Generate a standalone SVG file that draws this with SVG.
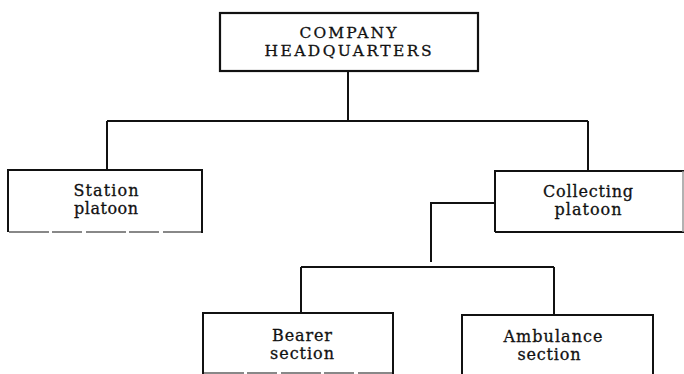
<svg xmlns="http://www.w3.org/2000/svg" width="684" height="374" viewBox="0 0 684 374">
<style>
.box{fill:#fff;stroke:#111;stroke-width:2.2}
.edge{fill:none;stroke:#111;stroke-width:2}
.faint{fill:none;stroke:#888;stroke-width:2;stroke-dasharray:40 3 30 4}
.lbl{font-family:"DejaVu Serif","Liberation Serif",serif;font-size:16px;fill:#111;stroke:#111;stroke-width:0.3;text-anchor:middle}
.cap{font-size:15.5px}
</style>
<rect width="684" height="374" fill="#fff"/>
<g id="connectors">
<path class="edge" d="M348,71 V121"/>
<path class="edge" d="M107,121 H588"/>
<path class="edge" d="M107,121 V170"/>
<path class="edge" d="M588,121 V171"/>
<path class="edge" d="M495,203 H431 V262"/>
<path class="edge" d="M301,267 H554"/>
<path class="edge" d="M301,267 V313"/>
<path class="edge" d="M554,267 V315"/>
</g>
<g id="hq">
<rect class="box" x="220" y="13" width="258" height="58"/>
<text class="lbl cap" x="348" y="38" textLength="97" lengthAdjust="spacing">COMPANY</text>
<text class="lbl cap" x="348" y="56" textLength="167" lengthAdjust="spacing">HEADQUARTERS</text>
</g>
<g id="station">
<path class="edge" d="M8,232 V170 H202 V233"/>
<path class="faint" d="M9,232 H201"/>
<text class="lbl" x="106" y="196" textLength="65" lengthAdjust="spacing">Station</text>
<text class="lbl" x="106" y="214" textLength="64" lengthAdjust="spacing">platoon</text>
</g>
<g id="collecting">
<path class="edge" d="M495,232 V171 H684"/>
<path class="edge" d="M495,232 H684"/>
<path fill="none" stroke="#999" stroke-width="1.5" d="M683,171 V232"/>
<text class="lbl" x="588" y="197" textLength="90" lengthAdjust="spacing">Collecting</text>
<text class="lbl" x="588" y="215" textLength="67" lengthAdjust="spacing">platoon</text>
</g>
<g id="bearer">
<path class="edge" d="M203,374 V313 H393 V374"/>
<path class="faint" d="M204,373 H392"/>
<text class="lbl" x="302" y="341" textLength="60" lengthAdjust="spacing">Bearer</text>
<text class="lbl" x="302" y="359" textLength="64" lengthAdjust="spacing">section</text>
</g>
<g id="ambulance">
<path class="edge" d="M462,374 V315 H653 V374"/>
<text class="lbl" x="553" y="342" textLength="99" lengthAdjust="spacing">Ambulance</text>
<text class="lbl" x="549" y="360" textLength="63" lengthAdjust="spacing">section</text>
</g>
</svg>
